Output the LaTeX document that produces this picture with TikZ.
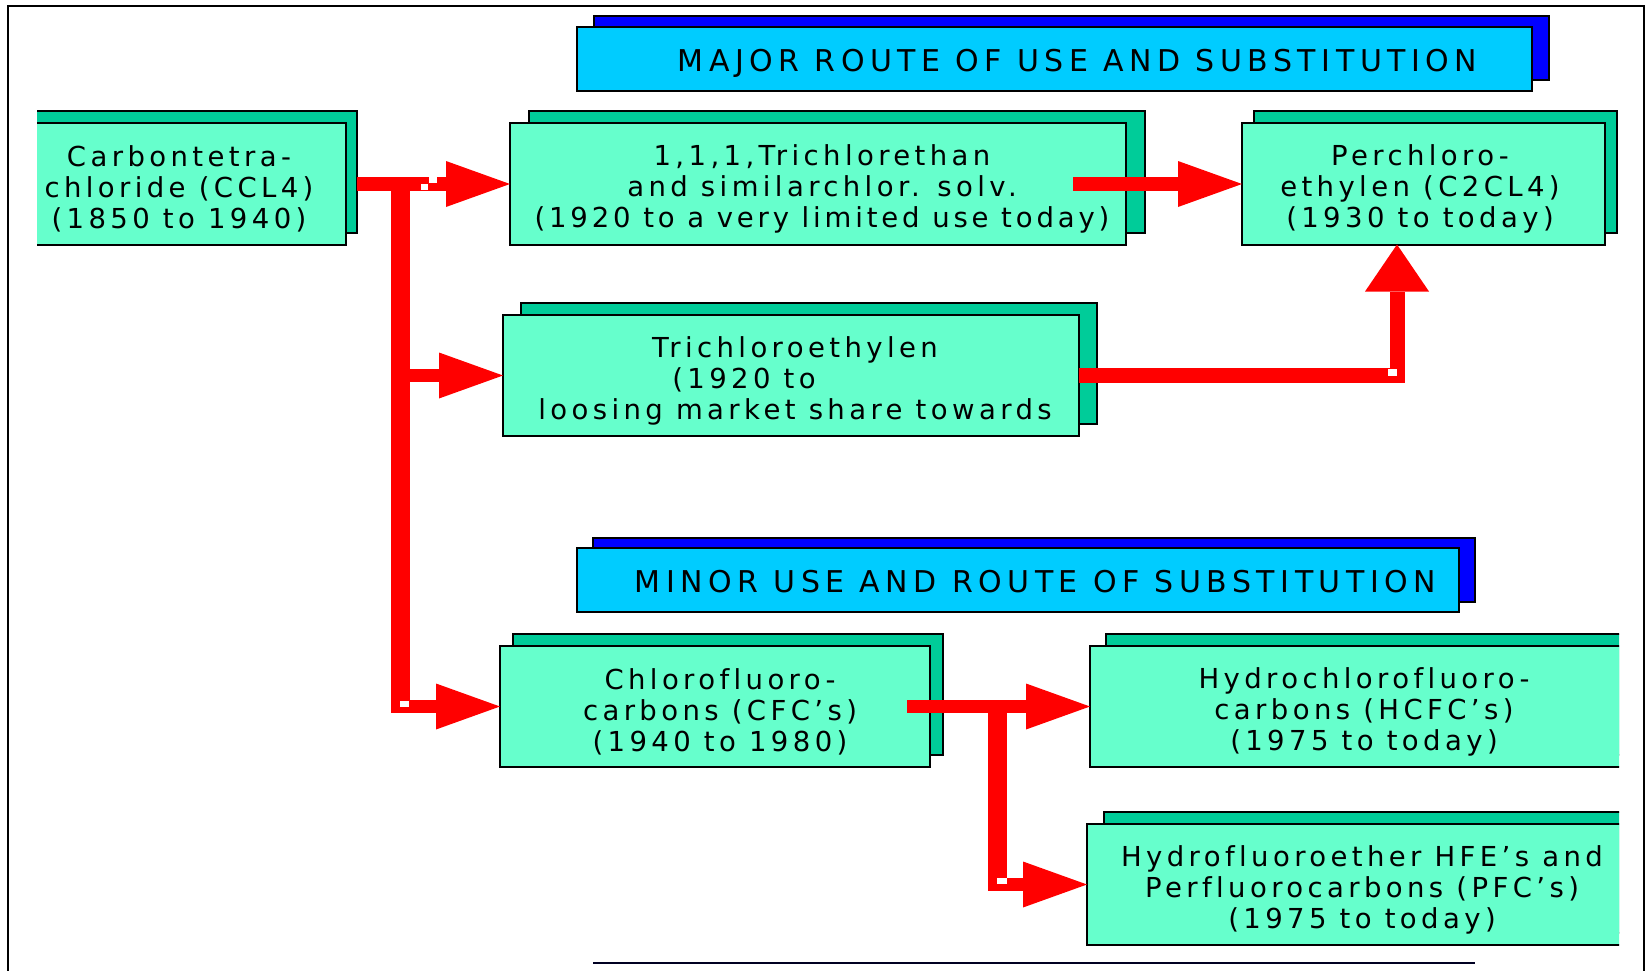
\documentclass[tikz,border=0pt]{standalone}
\usepackage{fontspec}
\setmainfont{DejaVu Sans}
\newfontfamily\boxfont[LetterSpace=16,Ligatures=NoCommon]{DejaVu Sans}
\newfontfamily\hdrfont[LetterSpace=18.5,Ligatures=NoCommon]{DejaVu Sans}
\usetikzlibrary{arrows.meta}
\definecolor{boxfill}{HTML}{66FFCC}
\definecolor{boxshadow}{HTML}{00CC99}
\definecolor{hdrfill}{HTML}{00CCFF}
\definecolor{hdrshadowcol}{HTML}{0000FF}
\definecolor{arrowred}{HTML}{FF0000}
\definecolor{rulecol}{HTML}{000022}
\tikzset{
  mainbox/.style={rectangle, draw=black, line width=2pt, fill=boxfill, inner sep=0pt, outer sep=0pt},
  shadowbox/.style={rectangle, draw=black, line width=2pt, fill=boxshadow, inner sep=0pt, outer sep=0pt},
  hdrbox/.style={rectangle, draw=black, line width=2pt, fill=hdrfill, inner sep=0pt, outer sep=0pt},
  hdrshadow/.style={rectangle, draw=black, line width=2pt, fill=hdrshadowcol, inner sep=0pt, outer sep=0pt},
  boxtext/.style={font=\boxfont\fontsize{27.5}{31}\selectfont, align=center, inner sep=0pt, text=black},
  hdrtext/.style={font=\hdrfont\fontsize{30}{32}\selectfont, inner sep=0pt, anchor=base, text=black},
  bar/.style={draw=arrowred, line width=13.5pt},
  trunkbar/.style={draw=arrowred, line width=19pt},
  headH/.style={-{Triangle[length=64pt,width=46pt,line width=0pt]}},
  headV/.style={-{Triangle[length=47pt,width=64pt,line width=0pt]}},
  gap/.style={fill=white, draw=none}
}
\begin{document}
\begin{tikzpicture}[x=1pt,y=-1pt]
\useasboundingbox (0,0) rectangle (1649,971);
% outer frame
\draw[line width=2pt, black] (8,971) -- (8,6) -- (1644,6) -- (1644,971);
\draw[line width=2pt, rulecol] (593,963) -- (1475,963);
\begin{scope}
\clip (37,0) rectangle (1619,971);
% headers
\node[hdrshadow, minimum width=955pt, minimum height=64pt] (hdrAs) at (1071.5,48.5) {};
\node[hdrbox, minimum width=955pt, minimum height=64pt] (hdrA) at (1054.5,59) {};
\node[hdrtext] (hdrAt) at (1077.5,72) {MAJOR ROUTE OF USE AND SUBSTITUTION};
\node[hdrshadow, minimum width=882pt, minimum height=64pt] (hdrBs) at (1034,569.5) {};
\node[hdrbox, minimum width=882pt, minimum height=64pt] (hdrB) at (1018,580) {};
\node[hdrtext] (hdrBt) at (1035.5,592) {MINOR USE AND ROUTE OF SUBSTITUTION};
% shadows
\node[shadowbox, minimum width=326pt, minimum height=121pt] (ccl4s) at (194,172) {};
\node[shadowbox, minimum width=616pt, minimum height=121pt] (tcas) at (837,172) {};
\node[shadowbox, minimum width=363pt, minimum height=121pt] (pces) at (1435,172) {};
\node[shadowbox, minimum width=576pt, minimum height=121pt] (tces) at (809,363.5) {};
\node[shadowbox, minimum width=430pt, minimum height=121pt] (cfcs) at (727.5,694.5) {};
\node[shadowbox, minimum width=560pt, minimum height=121pt] (hcfcs) at (1386,694.5) {};
\node[shadowbox, minimum width=563pt, minimum height=121pt] (hfes) at (1385.5,872.5) {};
% main boxes
\node[mainbox, minimum width=326pt, minimum height=121pt] (ccl4) at (183,184) {};
\node[mainbox, minimum width=616pt, minimum height=121pt] (tca) at (818,184) {};
\node[mainbox, minimum width=363pt, minimum height=121pt] (pce) at (1423.5,184) {};
\node[mainbox, minimum width=576pt, minimum height=121pt] (tce) at (791,375.5) {};
\node[mainbox, minimum width=430pt, minimum height=121pt] (cfc) at (715,706.5) {};
\node[mainbox, minimum width=560pt, minimum height=121pt] (hcfc) at (1370,706.5) {};
\node[mainbox, minimum width=563pt, minimum height=121pt] (hfe) at (1368.5,884.5) {};
% texts
\node[boxtext] (ccl4t) at (179,189) {Carbontetra-\\chloride (CCL4)\\(1850 to 1940)};
\node[boxtext] (tcat) at (822,189) {1,1,1,Trichlorethan\\and similarchlor. solv.\\{\addfontfeature{LetterSpace=14}(1920 to a very limited use today)}};
\node[boxtext] (pcet) at (1420,189) {Perchloro-\\ethylen (C2CL4)\\(1930 to today)};
\node[boxtext] (tcet) at (795,380.5) {Trichloroethylen\\(1920 to\rule{102pt}{0pt}\\loosing market share towards};
\node[boxtext] (cfct) at (720,711.5) {Chlorofluoro-\\carbons (CFC’s)\\(1940 to 1980)};
\node[boxtext] (hcfct) at (1364,711.5) {Hydrochlorofluoro-\\carbons (HCFC’s)\\(1975 to today)};
\node[boxtext] (hfet) at (1362,889.5) {Hydrofluoroether HFE’s and\\Perfluorocarbons (PFC’s)\\(1975 to today)};
% connectors
\coordinate (tTop) at (400.5,177);
\coordinate (tBot) at (400.5,713);
\coordinate (tCorner) at (391,706.5);
\coordinate (jTop) at (997.5,700);
\coordinate (jBot) at (997.5,891);
\coordinate (jCorner) at (988,884.5);
\draw[trunkbar] (tTop) -- (tBot);
\draw[bar, headH] ([xshift=11pt]ccl4.east) -- (tca.west);
\draw[bar, headH] (tTop |- tce.west) -- (tce.west);
\draw[bar, headH] (tCorner) -- (cfc.west);
\draw[bar, headH] ([xshift=-53pt]tca.east) -- (pce.west);
\draw[bar, line width=15pt, headV] (tce.east) -| ([xshift=-26.5pt]pce.south);
\draw[trunkbar] (jTop) -- (jBot);
\draw[bar, headH] ([xshift=-23pt]cfc.east) -- (hcfc.west);
\draw[bar, headH] (jCorner) -- (hfe.west);
% rendering gaps
\fill[gap] (421,184) rectangle (428,190);
\fill[gap] (429,177) rectangle (437,183);
\fill[gap] (400,701) rectangle (409,707);
\fill[gap] (1388,369) rectangle (1397,376);
\fill[gap] (997,878) rectangle (1007,884);
\end{scope}
\end{tikzpicture}
\end{document}
